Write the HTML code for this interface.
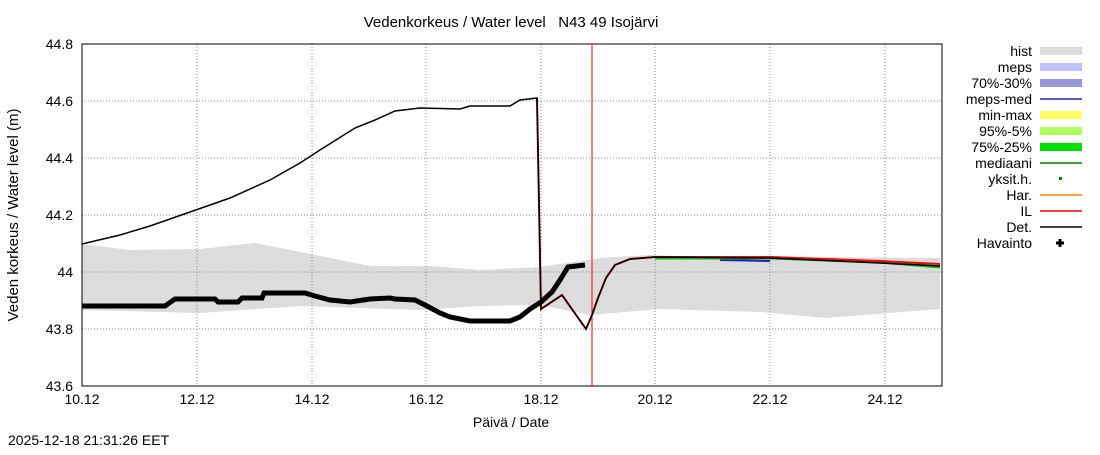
<!DOCTYPE html>
<html><head><style>body{margin:0;background:#fff}svg text{font-family:"Liberation Sans",sans-serif;fill:#000;white-space:pre}</style></head><body>
<svg width="1100" height="450" viewBox="0 0 1100 450" xmlns="http://www.w3.org/2000/svg" xml:space="preserve">
<rect width="1100" height="450" fill="#fff"/>
<text x="511" y="27" font-size="15" text-anchor="middle">Vedenkorkeus / Water level   N43 49 Isojärvi</text>
<polygon fill="#dcdcdc" points="82,244 130,250 200,249 255,243 310,254 370,266 430,266 480,270 540,267 600,258 650,255 700,257 800,257 940,258 940,309 825,318 760,312 660,309 590,315 540,305 480,306 420,310 300,306 200,313 82,310"/>
<g stroke="#888" stroke-dasharray="1,2" stroke-width="1">
<path d="M82,101H942M82,158H942M82,215H942M82,272H942M82,329H942"/>
<path d="M197,44V386M312,44V386M426,44V386M541,44V386M655,44V386M770,44V386M885,44V386"/>
</g>
<rect x="82" y="44" width="860" height="342" fill="none" stroke="#000"/>
<g font-size="14" text-anchor="end">
<text x="73" y="49">44.8</text><text x="73" y="106">44.6</text><text x="73" y="163">44.4</text><text x="73" y="220">44.2</text><text x="73" y="277">44</text><text x="73" y="334">43.8</text><text x="73" y="391">43.6</text>
</g>
<g font-size="14" text-anchor="middle">
<text x="82" y="404">10.12</text><text x="197" y="404">12.12</text><text x="312" y="404">14.12</text><text x="426" y="404">16.12</text><text x="541" y="404">18.12</text><text x="655" y="404">20.12</text><text x="770" y="404">22.12</text><text x="885" y="404">24.12</text>
<text x="511" y="427">Päivä / Date</text>
</g>
<text transform="translate(18,215) rotate(-90)" font-size="15" text-anchor="middle">Veden korkeus / Water level (m)</text>
<text x="8" y="445" font-size="14">2025-12-18 21:31:26 EET</text>
<line x1="592" y1="44" x2="592" y2="386" stroke="#f00"/>
<polyline fill="none" stroke="#2020c0" stroke-width="2" points="720,260 770,261"/>
<polyline fill="none" stroke="#00c000" stroke-width="3" points="655,258 770,258 880,262 940,267"/>
<polyline fill="none" stroke="#f00" stroke-width="2" points="655,257 770,257 880,261 940,264"/>
<polyline fill="none" stroke="#c00" stroke-width="2" points="537,98 541,309 562,295 586,329 592,315 598,298 606,278 615,265 630,259 655,257"/>
<polyline fill="none" stroke="#000" stroke-width="1.5" points="82,244 120,235 150,226 190,212 230,198 270,180 300,163 320,150 355,128 375,120 395,111 420,108 460,109 470,106 510,106 520,100 537,98 541,309 562,295 586,329 592,315 598,298 606,278 615,265 630,259 655,257 770,258 880,263 940,266"/>
<polyline fill="none" stroke="#000" stroke-width="5" points="82,306 165,306 175,299 215,299 218,302 238,302 242,298 262,298 264,293 305,293 315,296 330,300 350,302 370,299 390,298 395,299 415,300 425,305 440,313 450,317 470,321 510,321 520,317 530,309 541,302 552,292 560,280 568,267 585,265"/>
<g font-size="14" text-anchor="end">
<text x="1032" y="56">hist</text><text x="1032" y="72">meps</text><text x="1032" y="88">70%-30%</text><text x="1032" y="104">meps-med</text><text x="1032" y="120">min-max</text><text x="1032" y="136">95%-5%</text><text x="1032" y="152">75%-25%</text><text x="1032" y="168">mediaani</text><text x="1032" y="184">yksit.h.</text><text x="1032" y="200">Har.</text><text x="1032" y="216">IL</text><text x="1032" y="232">Det.</text><text x="1032" y="248">Havainto</text>
</g>
<rect x="1040" y="47" width="42" height="8" fill="#dcdcdc"/>
<rect x="1040" y="63" width="42" height="8" fill="#c0c0ff"/>
<rect x="1040" y="79" width="42" height="8" fill="#9898d8"/>
<line x1="1040" y1="99" x2="1082" y2="99" stroke="#2020c0" stroke-width="1.5"/>
<rect x="1040" y="111" width="42" height="8" fill="#ffff60"/>
<rect x="1040" y="127" width="42" height="8" fill="#b0ff60"/>
<rect x="1040" y="143" width="42" height="8" fill="#00e000"/>
<line x1="1040" y1="163" x2="1082" y2="163" stroke="#008000" stroke-width="1.5"/>
<rect x="1059" y="177" width="3" height="3" fill="#008000"/>
<line x1="1040" y1="195" x2="1082" y2="195" stroke="#ff8000" stroke-width="1.5"/>
<line x1="1040" y1="211" x2="1082" y2="211" stroke="#f00" stroke-width="1.5"/>
<line x1="1040" y1="227" x2="1082" y2="227" stroke="#000" stroke-width="1.5"/>
<path d="M1056,243h8M1060,239v8" stroke="#000" stroke-width="3"/>
</svg>
</body></html>
